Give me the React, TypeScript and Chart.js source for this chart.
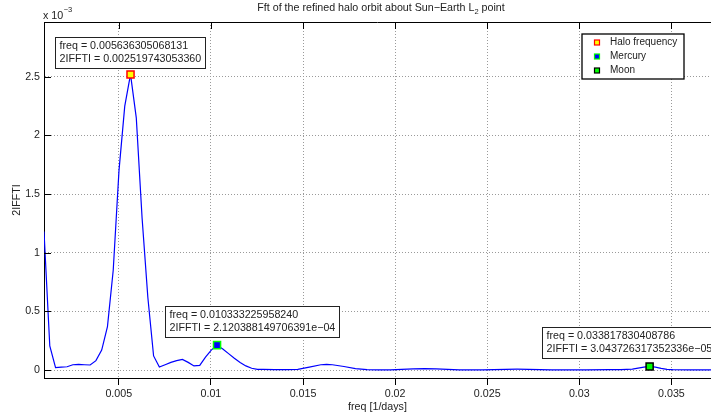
import React, { useEffect, useRef } from 'react';
import { Chart, registerables } from 'chart.js';

Chart.register(...registerables);

const FONT = "'Liberation Sans', Arial, Helvetica, sans-serif";
const FS = 10.7;
const FS_LEGEND = 10;

const TITLE_MAIN = 'Fft of the refined halo orbit about Sun\u2212Earth L';
const TITLE_SUB = '2';
const TITLE_END = ' point';
const X_LABEL = 'freq [1/days]';
const Y_LABEL = '2IFFTI';
const Y_EXP_BASE = 'x 10';
const Y_EXP = '\u22123';

// frequency grid [1/days]
const freq = [
  0.000939, 0.001253, 0.001566, 0.001879, 0.002192, 0.002505, 0.002818, 0.003131,
  0.003444, 0.003758, 0.004071, 0.004384, 0.004697, 0.005010, 0.005323, 0.005636,
  0.005949, 0.006262, 0.006576, 0.006889, 0.007202, 0.007515, 0.007828, 0.008141,
  0.008454, 0.008767, 0.009081, 0.009394, 0.009707, 0.010020, 0.010333, 0.010646,
  0.010959, 0.011272, 0.011586, 0.011899, 0.012212, 0.012525, 0.012838, 0.013464,
  0.014091, 0.014717, 0.015343, 0.015970, 0.016283, 0.016596, 0.017222, 0.017849,
  0.018475, 0.019101, 0.019727, 0.020354, 0.020980, 0.021606, 0.022233, 0.022859,
  0.023485, 0.024738, 0.025364, 0.025990, 0.026617, 0.027243, 0.027869, 0.028496,
  0.029122, 0.030374, 0.031627, 0.032253, 0.032879, 0.033192, 0.033505, 0.033818,
  0.034131, 0.034444, 0.034758, 0.035071, 0.036010, 0.037263,
];

// 2|FFT| magnitude, in units of 1e-3
const fftMag = [
  1.18, 0.205, 0.02, 0.025, 0.028, 0.045, 0.048, 0.045,
  0.043, 0.08, 0.17, 0.37, 0.85, 1.70, 2.25, 2.5197,
  2.15, 1.30, 0.62, 0.12, 0.025, 0.045, 0.065, 0.08,
  0.09, 0.065, 0.035, 0.04, 0.11, 0.17, 0.212, 0.18,
  0.14, 0.10, 0.065, 0.035, 0.015, 0.006, 0.005, 0.004,
  0.003, 0.006, 0.025, 0.045, 0.048, 0.045, 0.03, 0.012,
  0.003, 0.002, 0.002, 0.005, 0.01, 0.012, 0.01, 0.005,
  0.002, 0.002, 0.004, 0.006, 0.007, 0.006, 0.004, 0.002,
  0.002, 0.002, 0.003, 0.003, 0.008, 0.016, 0.025, 0.0304,
  0.024, 0.014, 0.006, 0.003, 0.002, 0.002,
];

const xTicks = [0.005, 0.01, 0.015, 0.02, 0.025, 0.03, 0.035];
const xTickLabels = ['0.005', '0.01', '0.015', '0.02', '0.025', '0.03', '0.035'];
const yTicks = [0, 0.5, 1, 1.5, 2, 2.5];
const yTickLabels = ['0', '0.5', '1', '1.5', '2', '2.5'];

const X_MIN = 0.000939;
const X_MAX = 0.03715;
const Y_MIN = -0.068;
const Y_MAX = 2.967;

const markerLabels = ['Halo frequency', 'Mercury', 'Moon'];
const markerFreq = [0.005636305068131, 0.01033322595824, 0.033817830408786];
const markerMag = [2.51974305336, 0.2120388149706391, 0.03043726317352336];
const markerFill = ['#ffff00', '#0000ff', '#00ff00'];
const markerEdge = ['#ff0000', '#00ff00', '#000000'];
const noteLine1 = ['freq = 0.005636305068131', 'freq = 0.010333225958240', 'freq = 0.033817830408786'];
const noteLine2 = [
  '2IFFTI = 0.002519743053360',
  '2IFFTI = 2.120388149706391e\u221204',
  '2IFFTI = 3.043726317352336e\u221205',
];
// box offsets relative to the marker (style)
const noteDx = [-76, -52.5, -107.8];
const noteDy = [-6.5, -8, -8];

const decor = {
  id: 'decor',
  afterDraw(chart: any) {
    const { ctx, chartArea: a, scales } = chart;
    const xs = scales.x;
    const ys = scales.y;
    ctx.save();

    // top frame line
    ctx.strokeStyle = '#000';
    ctx.lineWidth = 1;
    ctx.beginPath();
    ctx.moveTo(a.left, Math.round(a.top) + 0.5);
    ctx.lineTo(a.right, Math.round(a.top) + 0.5);
    ctx.stroke();

    // top ticks and left ticks (inward)
    ctx.beginPath();
    xTicks.forEach((v) => {
      const px = Math.round(xs.getPixelForValue(v)) + 0.5;
      ctx.moveTo(px, a.top);
      ctx.lineTo(px, a.top + 7);
    });
    yTicks.forEach((v) => {
      const py = Math.round(ys.getPixelForValue(v)) + 0.5;
      ctx.moveTo(a.left, py);
      ctx.lineTo(a.left + 7, py);
    });
    ctx.stroke();

    // title
    ctx.fillStyle = '#222';
    ctx.textBaseline = 'alphabetic';
    ctx.textAlign = 'left';
    ctx.font = `${FS}px ${FONT}`;
    const wMain = ctx.measureText(TITLE_MAIN).width;
    const wEnd = ctx.measureText(TITLE_END).width;
    ctx.font = `7.5px ${FONT}`;
    const wSub = ctx.measureText(TITLE_SUB).width;
    const total = wMain + wSub + wEnd;
    let tx = 381 - total / 2;
    ctx.font = `${FS}px ${FONT}`;
    ctx.fillText(TITLE_MAIN, tx, 11);
    tx += wMain;
    ctx.font = `7.5px ${FONT}`;
    ctx.fillText(TITLE_SUB, tx, 14);
    tx += wSub;
    ctx.font = `${FS}px ${FONT}`;
    ctx.fillText(TITLE_END, tx, 11);

    // exponent label
    ctx.font = `${FS}px ${FONT}`;
    ctx.fillText(Y_EXP_BASE, a.left - 1, 18.5);
    const wb = ctx.measureText(Y_EXP_BASE).width;
    ctx.font = `7.5px ${FONT}`;
    ctx.fillText(Y_EXP, a.left - 1 + wb + 0.5, 12);

    // axis titles
    ctx.font = `${FS}px ${FONT}`;
    ctx.textAlign = 'center';
    ctx.textBaseline = 'middle';
    ctx.fillText(X_LABEL, (a.left + a.right) / 2, 407.5);
    ctx.save();
    ctx.translate(17, (a.top + a.bottom) / 2);
    ctx.rotate(-Math.PI / 2);
    ctx.fillText(Y_LABEL, 0, 0);
    ctx.restore();

    // annotation boxes
    ctx.font = `${FS}px ${FONT}`;
    ctx.textAlign = 'left';
    markerFreq.forEach((f, i) => {
      const px = xs.getPixelForValue(f);
      const py = ys.getPixelForValue(markerMag[i]);
      const w = Math.round(Math.max(ctx.measureText(noteLine1[i]).width, ctx.measureText(noteLine2[i]).width) + 8);
      const h = 31;
      const left = Math.round(px + noteDx[i]) + 0.5;
      const top = Math.round(py + noteDy[i] - h) + 0.5;
      ctx.fillStyle = '#fff';
      ctx.fillRect(left, top, w, h);
      ctx.strokeStyle = '#222';
      ctx.lineWidth = 1;
      ctx.strokeRect(left, top, w, h);
      ctx.fillStyle = '#222';
      ctx.textBaseline = 'middle';
      ctx.fillText(noteLine1[i], left + 4, top + 8.5);
      ctx.fillText(noteLine2[i], left + 4, top + 22);
    });

    // legend
    const lgRight = a.right - 27;
    const lgTop = a.top + 12;
    const lgW = 102;
    const lgH = 45;
    const lgLeft = lgRight - lgW;
    ctx.fillStyle = '#fff';
    ctx.fillRect(lgLeft, lgTop, lgW, lgH);
    ctx.strokeStyle = '#000';
    ctx.lineWidth = 1.3;
    ctx.strokeRect(lgLeft, lgTop, lgW, lgH);
    const rowY = [lgTop + 8.5, lgTop + 22.5, lgTop + 36.5];
    markerLabels.forEach((lab, i) => {
      const cx = lgLeft + 15;
      const cy = rowY[i];
      ctx.fillStyle = markerFill[i];
      ctx.fillRect(cx - 2.5, cy - 2.5, 5, 5);
      ctx.strokeStyle = markerEdge[i];
      ctx.lineWidth = 1.2;
      ctx.strokeRect(cx - 2.5, cy - 2.5, 5, 5);
      ctx.fillStyle = '#222';
      ctx.font = `${FS_LEGEND}px ${FONT}`;
      ctx.textBaseline = 'middle';
      ctx.fillText(lab, lgLeft + 28, cy);
    });

    ctx.restore();
  },
};

export default function App() {
  const ref = useRef<HTMLCanvasElement | null>(null);

  useEffect(() => {
    if (!ref.current) return;
    const lineData = freq.map((f, i) => ({ x: f, y: fftMag[i] }));
    const markerSets = markerLabels.map((lab, i) => ({
      type: 'scatter' as const,
      label: lab,
      data: [{ x: markerFreq[i], y: markerMag[i] }],
      pointStyle: 'rect' as const,
      pointRadius: 5,
      pointBackgroundColor: markerFill[i],
      pointBorderColor: markerEdge[i],
      pointBorderWidth: 1.5,
      showLine: false,
      order: 0,
    }));
    const chart = new Chart(ref.current, {
      type: 'line',
      data: {
        datasets: [
          {
            label: 'FFT',
            data: lineData,
            borderColor: '#0000ff',
            borderWidth: 1.2,
            pointRadius: 0,
            fill: false,
            tension: 0,
            order: 1,
          } as any,
          ...markerSets,
        ],
      },
      options: {
        animation: false,
        responsive: false,
        maintainAspectRatio: false,
        layout: { autoPadding: false, padding: { top: 22, left: 0, right: 0, bottom: 0 } },
        plugins: {
          legend: { display: false },
          title: { display: false },
          tooltip: { enabled: false },
        },
        scales: {
          x: {
            type: 'linear',
            min: X_MIN,
            max: X_MAX,
            afterBuildTicks: (s: any) => {
              s.ticks = xTicks.map((v) => ({ value: v }));
            },
            afterFit: (s: any) => {
              s.height = 39;
              s.paddingLeft = 0;
              s.paddingRight = 0;
            },
            ticks: {
              autoSkip: false,
              maxRotation: 0,
              minRotation: 0,
              padding: 3,
              color: '#222',
              font: { family: FONT, size: FS },
              callback: (v: any) => {
                const i = xTicks.findIndex((t) => Math.abs(t - v) < 1e-9);
                return i >= 0 ? xTickLabels[i] : '';
              },
            },
            grid: {
              color: '#9a9a9a',
              lineWidth: 1,
              drawTicks: true,
              tickLength: 7,
              tickColor: '#000',
              tickWidth: 1,
              tickBorderDash: [],
            } as any,
            border: { display: true, color: '#000', width: 1, dash: [1, 2] } as any,
          },
          y: {
            type: 'linear',
            min: Y_MIN,
            max: Y_MAX,
            afterBuildTicks: (s: any) => {
              s.ticks = yTicks.map((v) => ({ value: v }));
            },
            afterFit: (s: any) => {
              s.width = 44;
              s.paddingTop = 0;
              s.paddingBottom = 0;
            },
            ticks: {
              autoSkip: false,
              padding: 4,
              color: '#222',
              font: { family: FONT, size: FS },
              callback: (v: any) => {
                const i = yTicks.findIndex((t) => Math.abs(t - v) < 1e-9);
                return i >= 0 ? yTickLabels[i] : '';
              },
            },
            grid: {
              color: '#9a9a9a',
              lineWidth: 1,
              drawTicks: false,
            } as any,
            border: { display: true, color: '#000', width: 1, dash: [1, 2] } as any,
          },
        },
      } as any,
      plugins: [decor],
    });
    return () => chart.destroy();
  }, []);

  return (
    <div style={{ position: 'fixed', left: 0, top: 0, width: 711, height: 417, background: '#fff' }}>
      <canvas ref={ref} width={711} height={417} style={{ display: 'block' }} />
    </div>
  );
}
